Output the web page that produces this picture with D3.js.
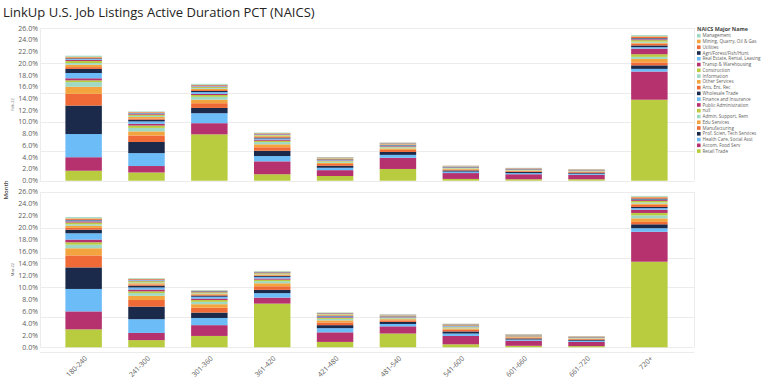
<!DOCTYPE html>
<html>
<head>
    <meta charset="utf-8">
    <script src="https://d3js.org/d3.v7.min.js"></script>
    <style>
        body { margin: 0; background: #fff; font-family: "Open Sans", sans-serif; }
        .title { font-size: 13px; fill: #252423; }
        .tick-label { font-size: 7px; fill: #605e5c; }
        .legend text { font-size: 4.6px; fill: #605e5c; }
        .grid { stroke: #ececec; stroke-width: 1; }
    </style>
</head>
<body>
    <script>
        const categories = ["180-240", "241-300", "301-360", "361-420", "421-480", "481-540", "541-600", "601-660", "661-720", "720+"];

        // stack order, bottom to top
        const series = ["Retail Trade", "Accom, Food Serv", "Health Care, Social Asst", "Prof, Scien, Tech Services",
            "Manufacturing", "Edu Services", "Admin, Support, Rem", "null", "Public Administration",
            "Finance and Insurance", "Wholesale Trade", "Arts, Ent, Rec", "Other Services", "Information",
            "Construction", "Transp & Warehousing", "Real Estate, Rental, Leasing", "Agri/Forest/Fish/Hunt",
            "Utilities", "Mining, Quarry, Oil & Gas", "Management"];

        const palette = ["#b9cb3f", "#b5326f", "#6cbcf7", "#1b2a4b", "#ef6a36", "#f4a43f", "#9fd9c3"];

        const panels = ["Feb-22", "Mar-22"];

        // one row per category, values in series order (%)
        const feb22 = [
            [1.7, 2.3, 3.95, 4.85, 2.0, 1.2, 0.8, 0.3, 0.35, 0.9, 0.7, 0.3, 0.4, 0.3, 0.35, 0.2, 0.15, 0.1, 0.15, 0.1, 0.2],
            [1.4, 1.1, 2.2, 1.9, 1.1, 0.7, 0.6, 0.4, 0.3, 0.4, 0.3, 0.2, 0.25, 0.2, 0.2, 0.15, 0.1, 0.05, 0.1, 0.05, 0.1],
            [7.9, 1.9, 1.7, 0.9, 0.8, 0.6, 0.5, 0.3, 0.2, 0.3, 0.2, 0.15, 0.2, 0.15, 0.15, 0.1, 0.1, 0.05, 0.1, 0.05, 0.15],
            [1.1, 2.2, 0.9, 0.9, 0.6, 0.5, 0.4, 0.2, 0.2, 0.2, 0.15, 0.1, 0.15, 0.1, 0.1, 0.1, 0.05, 0.05, 0.05, 0.05, 0.1],
            [0.8, 1.0, 0.4, 0.35, 0.3, 0.2, 0.2, 0.1, 0.1, 0.1, 0.08, 0.05, 0.07, 0.05, 0.05, 0.04, 0.03, 0.02, 0.03, 0.02, 0.05],
            [2.0, 1.9, 0.5, 0.5, 0.35, 0.25, 0.2, 0.1, 0.1, 0.12, 0.08, 0.05, 0.08, 0.05, 0.05, 0.04, 0.03, 0.02, 0.03, 0.02, 0.05],
            [0.3, 1.0, 0.25, 0.2, 0.15, 0.12, 0.1, 0.05, 0.06, 0.06, 0.04, 0.03, 0.04, 0.03, 0.03, 0.02, 0.02, 0.01, 0.02, 0.01, 0.03],
            [0.25, 0.85, 0.2, 0.18, 0.13, 0.1, 0.08, 0.05, 0.05, 0.05, 0.04, 0.03, 0.03, 0.02, 0.03, 0.02, 0.02, 0.01, 0.02, 0.01, 0.03],
            [0.25, 0.75, 0.2, 0.16, 0.12, 0.1, 0.08, 0.04, 0.04, 0.04, 0.03, 0.02, 0.03, 0.02, 0.02, 0.02, 0.01, 0.01, 0.01, 0.01, 0.02],
            [13.8, 4.8, 0.45, 0.6, 0.5, 0.6, 0.35, 0.45, 0.95, 0.25, 0.3, 0.3, 0.15, 0.2, 0.25, 0.15, 0.1, 0.1, 0.2, 0.1, 0.2]
        ];

        const mar22 = [
            [3.0, 3.0, 3.75, 3.6, 2.0, 1.2, 0.6, 0.4, 0.45, 1.05, 0.6, 0.3, 0.35, 0.25, 0.3, 0.2, 0.15, 0.1, 0.15, 0.1, 0.2],
            [1.2, 1.2, 2.3, 2.1, 1.1, 0.7, 0.45, 0.3, 0.3, 0.35, 0.3, 0.2, 0.2, 0.15, 0.2, 0.1, 0.1, 0.05, 0.1, 0.05, 0.1],
            [1.9, 1.8, 1.2, 0.9, 0.8, 0.6, 0.4, 0.3, 0.25, 0.3, 0.2, 0.15, 0.15, 0.1, 0.15, 0.1, 0.05, 0.05, 0.05, 0.03, 0.1],
            [7.3, 1.0, 0.75, 0.55, 0.6, 0.5, 0.35, 0.25, 0.2, 0.25, 0.15, 0.12, 0.15, 0.1, 0.12, 0.08, 0.05, 0.04, 0.05, 0.03, 0.1],
            [0.9, 1.6, 0.7, 0.5, 0.45, 0.35, 0.25, 0.15, 0.12, 0.15, 0.1, 0.07, 0.1, 0.06, 0.08, 0.05, 0.04, 0.03, 0.04, 0.02, 0.07],
            [2.3, 1.2, 0.4, 0.35, 0.25, 0.2, 0.15, 0.08, 0.08, 0.1, 0.06, 0.04, 0.06, 0.04, 0.05, 0.03, 0.02, 0.02, 0.02, 0.01, 0.04],
            [0.5, 1.4, 0.4, 0.35, 0.3, 0.2, 0.15, 0.08, 0.08, 0.1, 0.06, 0.04, 0.06, 0.04, 0.05, 0.03, 0.02, 0.02, 0.02, 0.01, 0.04],
            [0.25, 0.85, 0.2, 0.18, 0.13, 0.1, 0.08, 0.05, 0.05, 0.05, 0.04, 0.03, 0.03, 0.02, 0.03, 0.02, 0.02, 0.01, 0.02, 0.01, 0.03],
            [0.2, 0.7, 0.2, 0.15, 0.12, 0.1, 0.08, 0.04, 0.04, 0.04, 0.03, 0.02, 0.03, 0.02, 0.02, 0.02, 0.01, 0.01, 0.01, 0.01, 0.02],
            [14.3, 5.0, 0.6, 0.65, 0.4, 0.6, 0.5, 0.4, 0.55, 0.25, 0.2, 0.35, 0.2, 0.2, 0.25, 0.15, 0.1, 0.15, 0.2, 0.1, 0.15]
        ];

        const yTicks = d3.range(0, 26.1, 2);
        const gridTicks = [0, 5, 10, 15, 20];

        const width = 768, height = 387;
        const svg = d3.select("body").append("svg")
            .attr("width", width)
            .attr("height", height);

        svg.append("text")
            .attr("class", "title")
            .attr("x", 3)
            .attr("y", 17)
            .text("LinkUp U.S. Job Listings Active Duration PCT (NAICS)");

        const x = d3.scaleBand()
            .domain(categories)
            .range([39, 694])
            .padding(0.42);

        const color = d3.scaleOrdinal()
            .domain(series)
            .range(series.map((s, i) => palette[i % palette.length]));

        const panelRanges = [[180.7, 28.1], [347.3, 191.7]];
        const panelData = [feb22, mar22];

        panelData.forEach((rows, p) => {
            const y = d3.scaleLinear().domain([0, 26]).range(panelRanges[p]);
            const g = svg.append("g");

            // grid
            g.selectAll(".grid")
                .data(gridTicks)
                .enter().append("line")
                .attr("class", "grid")
                .attr("x1", 40).attr("x2", 694)
                .attr("y1", d => Math.round(y(d)) + 0.5)
                .attr("y2", d => Math.round(y(d)) + 0.5);
            g.append("line").attr("class", "grid")
                .attr("x1", 40).attr("x2", 694)
                .attr("y1", Math.round(y(26)) + 0.5).attr("y2", Math.round(y(26)) + 0.5);
            g.append("line").attr("class", "grid")
                .attr("x1", 40.5).attr("x2", 40.5)
                .attr("y1", y(26)).attr("y2", y(0));
            g.append("line").attr("class", "grid")
                .attr("x1", 694.5).attr("x2", 694.5)
                .attr("y1", y(26)).attr("y2", y(0));

            // y labels
            g.selectAll(".tick-label")
                .data(yTicks)
                .enter().append("text")
                .attr("class", "tick-label")
                .attr("x", 38)
                .attr("y", d => y(d))
                .attr("dy", "0.35em")
                .attr("text-anchor", "end")
                .text(d => d3.format(".1f")(d) + "%");

            // facet label
            g.append("text")
                .attr("transform", `translate(14,${(panelRanges[p][0] + panelRanges[p][1]) / 2}) rotate(-90)`)
                .attr("text-anchor", "middle")
                .style("font-size", "4px")
                .style("fill", "#605e5c")
                .text(panels[p]);

            const table = rows.map((r, i) => {
                const o = { cat: categories[i] };
                series.forEach((s, j) => o[s] = r[j]);
                return o;
            });
            const stacked = d3.stack().keys(series)(table);

            g.selectAll(".layer")
                .data(stacked)
                .enter().append("g")
                .attr("fill", d => color(d.key))
                .selectAll("rect")
                .data(d => d)
                .enter().append("rect")
                .attr("x", d => x(d.data.cat))
                .attr("width", x.bandwidth())
                .attr("y", d => y(d[1]))
                .attr("height", d => y(d[0]) - y(d[1]));
        });

        svg.append("text")
            .attr("transform", "translate(8,190) rotate(-90)")
            .attr("text-anchor", "middle")
            .style("font-size", "6px")
            .style("font-weight", "600")
            .style("fill", "#444")
            .text("Month");

        // x labels
        svg.append("line").attr("class", "grid")
            .attr("x1", 40).attr("x2", 694)
            .attr("y1", 352.5).attr("y2", 352.5);
        svg.selectAll(".x-label")
            .data(categories)
            .enter().append("text")
            .attr("class", "tick-label")
            .attr("text-anchor", "end")
            .attr("transform", d => `translate(${x(d) + x.bandwidth() / 2 + 4},359) rotate(-45)`)
            .text(d => d);

        // legend
        const legend = svg.append("g").attr("class", "legend");
        legend.append("text")
            .attr("x", 697)
            .attr("y", 31)
            .style("font-weight", "700")
            .style("font-size", "5.4px")
            .style("fill", "#444")
            .text("NAICS Major Name");

        const items = series.slice().reverse();
        const li = legend.selectAll(".item")
            .data(items)
            .enter().append("g")
            .attr("transform", (d, i) => `translate(697,${35.7 + i * 5.77})`);
        li.append("rect")
            .attr("x", 0).attr("y", -1.8)
            .attr("width", 3.6).attr("height", 3.6)
            .attr("fill", d => color(d));
        li.append("text")
            .attr("x", 5.5)
            .attr("dy", "0.35em")
            .text(d => d);
    </script>
</body>
</html>
